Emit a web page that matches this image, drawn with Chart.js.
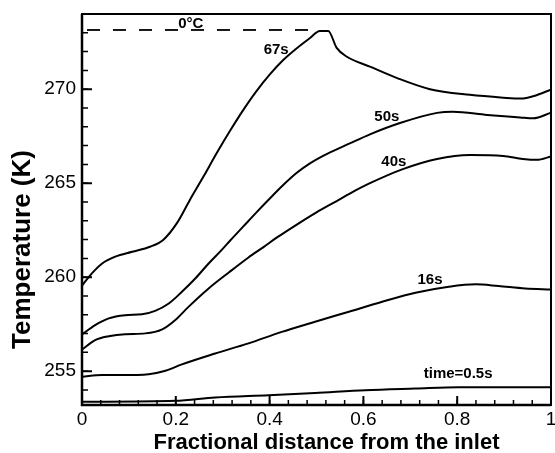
<!DOCTYPE html>
<html>
<head>
<meta charset="utf-8">
<script src="https://cdn.jsdelivr.net/npm/chart.js@4.4.1/dist/chart.umd.min.js"></script>
<style>
  html, body { margin: 0; padding: 0; background: #fff; }
</style>
</head>
<body>
<canvas id="tempChart" width="555" height="453"></canvas>
<script>
// Temperature profiles along the channel at several times

const x67 = [0, 0.021, 0.043, 0.071, 0.107, 0.145, 0.173, 0.202, 0.23, 0.259, 0.287, 0.316, 0.344, 0.372, 0.401, 0.429, 0.458, 0.486, 0.507, 0.525, 0.543, 0.564, 0.614, 0.672, 0.742, 0.827, 0.898, 0.935, 0.969, 1.0];
const t67 = [259.55, 260.2, 260.73, 261.09, 261.35, 261.62, 261.98, 262.86, 264.11, 265.35, 266.59, 267.8, 268.9, 269.9, 270.8, 271.55, 272.18, 272.72, 273.1, 273.1, 272.2, 271.74, 271.2, 270.59, 270.0, 269.7, 269.55, 269.5, 269.68, 269.98];

const x50 = [0, 0.028, 0.057, 0.092, 0.128, 0.156, 0.185, 0.213, 0.242, 0.27, 0.298, 0.316, 0.344, 0.372, 0.401, 0.429, 0.458, 0.486, 0.514, 0.543, 0.571, 0.614, 0.678, 0.757, 0.791, 0.864, 0.934, 0.962, 1.0];
const t50 = [256.95, 257.45, 257.81, 257.98, 258.03, 258.21, 258.6, 259.22, 259.94, 260.73, 261.45, 261.95, 262.7, 263.45, 264.2, 264.9, 265.55, 266.05, 266.45, 266.8, 267.12, 267.6, 268.2, 268.74, 268.8, 268.63, 268.5, 268.45, 268.75];

const x40 = [0, 0.028, 0.057, 0.092, 0.135, 0.171, 0.199, 0.227, 0.27, 0.313, 0.355, 0.387, 0.415, 0.458, 0.5, 0.543, 0.571, 0.614, 0.684, 0.757, 0.827, 0.898, 0.94, 0.97, 1.0];
const t40 = [256.15, 256.65, 256.86, 256.97, 257.01, 257.22, 257.72, 258.42, 259.4, 260.25, 261.05, 261.6, 262.1, 262.8, 263.45, 264.05, 264.45, 265.0, 265.75, 266.29, 266.5, 266.45, 266.29, 266.24, 266.42];

const x16 = [0, 0.043, 0.085, 0.142, 0.178, 0.213, 0.284, 0.355, 0.426, 0.497, 0.569, 0.64, 0.711, 0.782, 0.839, 0.888, 0.945, 1.0];
const t16 = [254.7, 254.79, 254.79, 254.84, 255.02, 255.36, 255.94, 256.48, 257.09, 257.63, 258.16, 258.69, 259.17, 259.49, 259.62, 259.53, 259.4, 259.35];

const x05 = [0, 0.199, 0.284, 0.398, 0.497, 0.604, 0.711, 0.803, 1.0];
const t05 = [253.37, 253.42, 253.6, 253.72, 253.84, 253.99, 254.08, 254.15, 254.15];

// 0 degC reference line
const freezeK = 273.15;
const freezeX = [0, 0.49];

const xTicks = [0, 0.2, 0.4, 0.6, 0.8, 1];
const yTicks = [255, 260, 265, 270];
const xMinorStep = 0.04;
const yMinorStep = 1;

const curveLabels = [
  { text: "0\u00b0C", x: 0.232, y: 273.5 },
  { text: "67s", x: 0.414, y: 272.09 },
  { text: "50s", x: 0.65, y: 268.53 },
  { text: "40s", x: 0.665, y: 266.13 },
  { text: "16s", x: 0.742, y: 259.85 },
  { text: "time=0.5s", x: 0.802, y: 254.87 },
];

const FONT = "'Liberation Sans', Arial, sans-serif";

function points(xs, ys) {
  return xs.map((x, i) => ({ x: x, y: ys[i] }));
}

function curve(xs, ys) {
  return {
    data: points(xs, ys),
    borderColor: "#000",
    borderWidth: 2,
    pointRadius: 0,
    fill: false,
    cubicInterpolationMode: "monotone",
  };
}

// frame, inward tick marks, axis titles and curve labels
const decorations = {
  id: "decorations",
  afterDatasetsDraw(chart) {
    const ctx = chart.ctx;
    const a = chart.chartArea;
    const xs = chart.scales.x;
    const ys = chart.scales.y;
    ctx.save();
    ctx.strokeStyle = "#000";
    ctx.fillStyle = "#000";

    ctx.lineWidth = 1.5;
    ctx.beginPath();
    for (let v = xs.min; v <= xs.max + 1e-9; v += xMinorStep) {
      const px = xs.getPixelForValue(v);
      ctx.moveTo(px, a.bottom);
      ctx.lineTo(px, a.bottom - 5);
    }
    for (let v = Math.ceil(ys.min); v <= ys.max; v += yMinorStep) {
      const py = ys.getPixelForValue(v);
      ctx.moveTo(a.left, py);
      ctx.lineTo(a.left + 6, py);
    }
    ctx.stroke();

    ctx.lineWidth = 2;
    ctx.beginPath();
    xTicks.forEach((v) => {
      const px = xs.getPixelForValue(v);
      ctx.moveTo(px, a.bottom);
      ctx.lineTo(px, a.bottom - 9);
    });
    yTicks.forEach((v) => {
      const py = ys.getPixelForValue(v);
      ctx.moveTo(a.left, py);
      ctx.lineTo(a.left + 10, py);
    });
    ctx.stroke();

    ctx.lineWidth = 2;
    ctx.strokeRect(a.left, a.top, a.right - a.left, a.bottom - a.top);
    ctx.lineWidth = 2.5;
    ctx.beginPath();
    ctx.moveTo(a.left, a.top);
    ctx.lineTo(a.left, a.bottom);
    ctx.lineTo(a.right, a.bottom);
    ctx.stroke();

    ctx.font = "bold 15px " + FONT;
    ctx.textAlign = "center";
    ctx.textBaseline = "middle";
    curveLabels.forEach((l) => {
      ctx.fillText(l.text, xs.getPixelForValue(l.x), ys.getPixelForValue(l.y));
    });

    ctx.font = "bold 22px " + FONT;
    ctx.textBaseline = "middle";
    ctx.fillText("Fractional distance from the inlet", (a.left + a.right) / 2 + 10, a.bottom + 38);

    ctx.translate(a.left - 52.5, (a.top + a.bottom) / 2 + 40);
    ctx.rotate(-Math.PI / 2);
    ctx.font = "bold 26px " + FONT;
    ctx.textBaseline = "alphabetic";
    ctx.fillText("Temperature (K)", 0, 0);
    ctx.restore();
  },
};

new Chart(document.getElementById("tempChart"), {
  type: "line",
  data: {
    datasets: [
      curve(x67, t67),
      curve(x50, t50),
      curve(x40, t40),
      curve(x16, t16),
      curve(x05, t05),
      {
        data: freezeX.map((x) => ({ x: x, y: freezeK })),
        borderColor: "#000",
        borderWidth: 1.8,
        borderDash: [13, 13],
        borderDashOffset: -5,
        pointRadius: 0,
        fill: false,
      },
    ],
  },
  options: {
    responsive: false,
    animation: false,
    events: [],
    layout: { padding: { top: 14, right: 4, left: 0, bottom: 0 } },
    plugins: {
      legend: { display: false },
      tooltip: { enabled: false },
    },
    scales: {
      x: {
        type: "linear",
        min: 0,
        max: 1,
        grid: { display: false, drawTicks: false },
        border: { display: false },
        ticks: {
          color: "#000",
          font: { family: FONT, size: 19 },
          padding: 3,
          maxRotation: 0,
          autoSkip: false,
          callback: (v) => String(v),
        },
        afterBuildTicks: (s) => {
          s.ticks = xTicks.map((v) => ({ value: v }));
        },
        afterFit: (s) => {
          s.height = 48;
          s.paddingLeft = 0;
          s.paddingRight = 0;
        },
      },
      y: {
        type: "linear",
        min: 253.2,
        max: 274.0,
        grid: { display: false, drawTicks: false },
        border: { display: false },
        ticks: {
          color: "#000",
          font: { family: FONT, size: 19 },
          padding: 6,
          autoSkip: false,
          callback: (v) => String(v),
        },
        afterBuildTicks: (s) => {
          s.ticks = yTicks.map((v) => ({ value: v }));
        },
        afterFit: (s) => {
          s.width = 82;
          s.paddingTop = 0;
          s.paddingBottom = 0;
        },
      },
    },
  },
  plugins: [decorations],
});
</script>
</body>
</html>
